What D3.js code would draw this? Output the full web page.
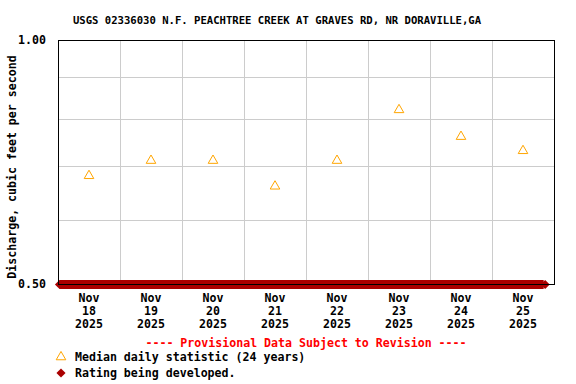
<!DOCTYPE html>
<html>
<head>
<meta charset="utf-8">
<script src="https://cdn.jsdelivr.net/npm/d3@7"></script>
<style>
  body { margin: 0; background: #fff; }
  text { font-family: "DejaVu Sans Mono", monospace; font-weight: bold; }
</style>
</head>
<body>
<div class="chart"></div>
<script>
// median daily statistic, one per day (cfs)
const days = ['2025-11-18', '2025-11-19', '2025-11-20', '2025-11-21', '2025-11-22', '2025-11-23', '2025-11-24', '2025-11-25'];
const medians = [0.68, 0.71, 0.71, 0.66, 0.71, 0.82, 0.76, 0.73];

// rating being developed: series drawn along the bottom
const ratingStart = '2025-11-18 00:00';
const ratingEnd = '2025-11-25 20:00';

const yTicks = [0.5, 1.0];
const yGrid = [0.6, 0.7, 0.8, 0.9];

const title = 'USGS 02336030 N.F. PEACHTREE CREEK AT GRAVES RD, NR DORAVILLE,GA';
const yLabel = 'Discharge, cubic feet per second';

const margin = { left: 58, top: 40, right: 22, bottom: 100 };
const width = 576 - margin.left - margin.right;   // 496
const height = 384 - margin.top - margin.bottom;  // 244

const parseDay = d3.timeParse('%Y-%m-%d');
const parseTime = d3.timeParse('%Y-%m-%d %H:%M');

const svg = d3.select('.chart')
  .append('svg')
    .attr('width', 576)
    .attr('height', 384);

const chart = svg.append('g')
  .attr('transform', `translate(${margin.left}, ${margin.top})`);

//scales
const xScale = d3.scaleTime()
  .domain([parseDay(days[0]), d3.timeDay.offset(parseDay(days[days.length - 1]), 1)])
  .range([0, width]);

const yScale = d3.scaleLog()
  .domain([0.5, 1.0])
  .range([height, 0]);

//grid
chart.append('g')
  .selectAll('line')
  .data(d3.timeDay.range(xScale.domain()[0], xScale.domain()[1]).slice(1))
  .enter().append('line')
    .attr('x1', d => xScale(d) + 0.5)
    .attr('x2', d => xScale(d) + 0.5)
    .attr('y1', 0)
    .attr('y2', height)
    .style('stroke', '#cccccc')
    .style('stroke-width', 1);

chart.append('g')
  .selectAll('line')
  .data(yGrid)
  .enter().append('line')
    .attr('x1', 0)
    .attr('x2', width)
    .attr('y1', d => Math.round(yScale(d)) + 0.5)
    .attr('y2', d => Math.round(yScale(d)) + 0.5)
    .style('stroke', '#cccccc')
    .style('stroke-width', 1);

//rating being developed band
const ratingPts = [parseTime(ratingStart), parseTime(ratingEnd)];
const diamond = d3.symbol().type(d3.symbolSquare).size(42);
chart.append('line')
  .attr('x1', xScale(ratingPts[0]) + 1.5)
  .attr('x2', xScale(ratingPts[1]))
  .attr('y1', height + 0.5)
  .attr('y2', height + 0.5)
  .style('stroke', '#aa0000')
  .style('stroke-width', 9);
chart.append('g')
  .selectAll('path')
  .data(ratingPts)
  .enter().append('path')
    .attr('d', diamond)
    .attr('transform', d => `translate(${xScale(d) + 1.5},${height + 0.5}) rotate(45)`)
    .style('fill', '#aa0000');

//plot border
chart.append('rect')
  .attr('x', 0.5)
  .attr('y', 0.5)
  .attr('width', width)
  .attr('height', height)
  .style('fill', 'none')
  .style('stroke', '#000')
  .style('stroke-width', 1);

//median triangles
const tri = d3.symbol().type(d3.symbolTriangle).size(40);
chart.append('g')
  .selectAll('path')
  .data(days.map((d, i) => ({ date: d3.timeHour.offset(parseDay(d), 12), value: medians[i] })))
  .enter().append('path')
    .attr('d', tri)
    .attr('transform', d => `translate(${xScale(d.date)},${yScale(d.value)})`)
    .style('fill', 'none')
    .style('stroke', '#ffa500')
    .style('stroke-width', 1);

//y tick labels
chart.append('g')
  .selectAll('text')
  .data(yTicks)
  .enter().append('text')
    .attr('x', -12)
    .attr('y', d => yScale(d) + 4)
    .attr('text-anchor', 'end')
    .style('font-size', '11.6px')
    .text(d => d3.format('.2f')(d));

//x tick labels
const xLab = chart.append('g')
  .selectAll('text')
  .data(days.map(parseDay))
  .enter().append('text')
    .attr('text-anchor', 'middle')
    .style('font-size', '11.6px')
    .attr('transform', d => `translate(${xScale(d3.timeHour.offset(d, 12))},${height + 18})`);
xLab.append('tspan').attr('x', 0).attr('y', 0).text(d3.timeFormat('%b'));
xLab.append('tspan').attr('x', 0).attr('y', 13).text(d3.timeFormat('%d'));
xLab.append('tspan').attr('x', 0).attr('y', 26).text(d3.timeFormat('%Y'));

//title
svg.append('text')
  .attr('x', 277)
  .attr('y', 24)
  .attr('text-anchor', 'middle')
  .style('font-size', '10.6px')
  .text(title);

//y label
svg.append('text')
  .attr('transform', 'translate(16, 167) rotate(-90)')
  .attr('text-anchor', 'middle')
  .style('font-size', '11.6px')
  .text(yLabel);

//provisional note
svg.append('text')
  .attr('x', 306)
  .attr('y', 347)
  .attr('text-anchor', 'middle')
  .style('font-size', '11.6px')
  .style('fill', '#ff0000')
  .text('---- Provisional Data Subject to Revision ----');

//legend
svg.append('path')
  .attr('d', tri)
  .attr('transform', 'translate(61, 357)')
  .style('fill', 'none')
  .style('stroke', '#ffa500');
svg.append('text')
  .attr('x', 75)
  .attr('y', 361)
  .style('font-size', '11.6px')
  .text('Median daily statistic (24 years)');
svg.append('path')
  .attr('d', diamond)
  .attr('transform', 'translate(61, 373) rotate(45)')
  .style('fill', '#aa0000');
svg.append('text')
  .attr('x', 75)
  .attr('y', 377)
  .style('font-size', '11.6px')
  .text('Rating being developed.');
</script>
</body>
</html>
